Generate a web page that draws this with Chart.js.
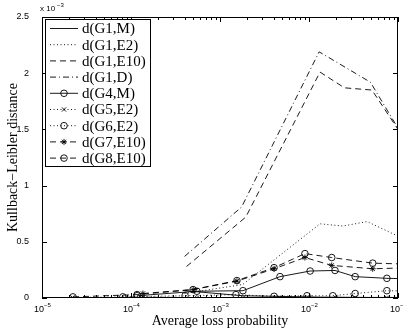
<!DOCTYPE html>
<html lang="en">
<head>
    <meta charset="UTF-8">
    <title>Kullback-Leibler distance</title>
    <style>
        body { margin: 0; background: #fff; }
        canvas { display: block; }
    </style>
    <script src="https://cdn.jsdelivr.net/npm/chart.js"></script>
</head>
<body>
    <canvas id="klChart" width="403" height="334"></canvas>
    <script>
        // tick labels
        const xTickValues = [1e-5, 1e-4, 1e-3, 1e-2, 1e-1];
        const xTickExps = ['−5', '−4', '−3', '−2', '−1'];
        const yTickValues = [0, 0.5, 1, 1.5, 2, 2.5];
        const yTickLabels = ['0', '0.5', '1', '1.5', '2', '2.5'];

        // series (y in units of 1e-3)
        const xG1M = [4.0e-4, 1.8e-3, 1.33e-2, 4.7e-2, 1.0e-1];
        const yG1M = [0.065, 0.02, 0.008, 0.005, 0.005];

        const xG1E2 = [4.0e-4, 1.8e-3, 1.33e-2, 2.4e-2, 4.5e-2, 1.0e-1];
        const yG1E2 = [0.04, 0.12, 0.66, 0.64, 0.68, 0.55];

        const xG1E10 = [4.2e-4, 1.95e-3, 1.33e-2, 2.5e-2, 5.1e-2, 1.0e-1];
        const yG1E10 = [0.28, 0.72, 2.01, 1.87, 1.85, 1.50];

        const xG1D = [4.0e-4, 1.75e-3, 1.3e-2, 4.9e-2, 1.0e-1];
        const yG1D = [0.37, 0.81, 2.19, 1.92, 1.51];

        const xG4M = [1.17e-4, 5.5e-4, 1.81e-3, 4.72e-3, 1.03e-2, 1.96e-2, 3.3e-2, 7.5e-2, 1.5e-1];
        const yG4M = [0.02, 0.06, 0.065, 0.19, 0.24, 0.245, 0.19, 0.175, 0.17];

        const xG5E2 = [2.2e-5, 1.36e-4, 5.5e-4, 1.81e-3, 4.7e-3, 1.0e-2, 2.0e-2, 3.3e-2, 7.5e-2];
        const yG5E2 = [0.005, 0.01, 0.003, 0.003, 0.003, 0.003, 0.003, 0.003, 0.003];

        const xG6E2 = [8.1e-5, 4.05e-4, 1.51e-3, 4.05e-3, 9.5e-3, 1.85e-2, 3.3e-2, 7.5e-2, 1.5e-1];
        const yG6E2 = [0.01, 0.02, 0.03, 0.015, 0.02, 0.02, 0.04, 0.065, 0.06];

        const xG7E10 = [1.36e-4, 5.0e-4, 1.55e-3, 4.05e-3, 9.0e-3, 1.8e-2, 5.2e-2, 1.5e-1];
        const yG7E10 = [0.04, 0.075, 0.15, 0.26, 0.36, 0.29, 0.26, 0.27];

        const xG8E10 = [2.23e-5, 1.17e-4, 4.98e-4, 1.55e-3, 4.05e-3, 9.0e-3, 1.8e-2, 5.2e-2, 1.5e-1];
        const yG8E10 = [0.01, 0.03, 0.075, 0.155, 0.27, 0.395, 0.36, 0.31, 0.30];

        const pts = (xs, ys) => xs.map((x, i) => ({ x: x, y: ys[i] }));

        const DASH = [6, 4];
        const DOT = [1, 2.5];
        const DASHDOT = [6, 3, 1, 3];

        function series(label, xs, ys, dash, marker) {
            return {
                label: label,
                data: pts(xs, ys),
                borderColor: '#000',
                borderWidth: 0.9,
                borderDash: dash,
                pointStyle: marker || false,
                pointRadius: marker ? (marker === 'circle' ? 3.3 : 3) : 0,
                pointBorderColor: '#000',
                pointBackgroundColor: 'rgba(0,0,0,0)',
                pointBorderWidth: 0.9,
                tension: 0
            };
        }

        const datasets = [
            series('d(G1,M)', xG1M, yG1M, [], null),
            series('d(G1,E2)', xG1E2, yG1E2, DOT, null),
            series('d(G1,E10)', xG1E10, yG1E10, DASH, null),
            series('d(G1,D)', xG1D, yG1D, DASHDOT, null),
            series('d(G4,M)', xG4M, yG4M, [], 'circle'),
            series('d(G5,E2)', xG5E2, yG5E2, DOT, 'crossRot'),
            series('d(G6,E2)', xG6E2, yG6E2, DOT, 'circle'),
            series('d(G7,E10)', xG7E10, yG7E10, DASH, 'star'),
            series('d(G8,E10)', xG8E10, yG8E10, DASH, 'circle')
        ];

        // MATLAB style box, inner ticks, log tick labels, exponent label and legend
        const matlabAxes = {
            id: 'matlabAxes',
            afterDraw(chart) {
                const ctx = chart.ctx;
                const ca = chart.chartArea;
                const xs = chart.scales.x;
                const ys = chart.scales.y;
                ctx.save();
                ctx.strokeStyle = '#000';
                ctx.lineWidth = 1;
                ctx.setLineDash([]);
                ctx.strokeRect(ca.left + 0.5, ca.top + 0.5, ca.right - ca.left - 1, ca.bottom - ca.top - 1);

                ctx.beginPath();
                for (let d = -5; d <= -1; d++) {
                    for (let k = 1; k <= 9; k++) {
                        const v = k * Math.pow(10, d);
                        if (v > 0.1000001) break;
                        const px = Math.round(xs.getPixelForValue(v)) + 0.5;
                        const len = k === 1 ? 5 : 3;
                        ctx.moveTo(px, ca.bottom);
                        ctx.lineTo(px, ca.bottom - len);
                        ctx.moveTo(px, ca.top);
                        ctx.lineTo(px, ca.top + len);
                    }
                }
                yTickValues.forEach(v => {
                    const py = Math.round(ys.getPixelForValue(v)) + 0.5;
                    ctx.moveTo(ca.left, py);
                    ctx.lineTo(ca.left + 5, py);
                    ctx.moveTo(ca.right, py);
                    ctx.lineTo(ca.right - 5, py);
                });
                ctx.stroke();

                // x tick labels 10^n
                ctx.fillStyle = '#000';
                ctx.textBaseline = 'alphabetic';
                xTickValues.forEach((v, i) => {
                    const px = xs.getPixelForValue(v);
                    ctx.font = '9px "Liberation Sans"';
                    ctx.textAlign = 'right';
                    ctx.fillText('10', px + 2, 312);
                    ctx.font = '6px "Liberation Sans"';
                    ctx.textAlign = 'left';
                    ctx.fillText(xTickExps[i], px + 2, 307);
                });
                ctx.textAlign = 'left';

                // exponent
                ctx.font = '8px "Liberation Sans"';
                ctx.fillText('x 10', 40, 11);
                ctx.font = '6px "Liberation Sans"';
                ctx.fillText('−3', 57, 7);

                // legend
                const lx = 45, ly = 19, lw = 105, lh = 147;
                ctx.fillStyle = '#fff';
                ctx.fillRect(lx, ly, lw, lh);
                ctx.strokeRect(lx + 0.5, ly + 0.5, lw, lh);
                ctx.font = '15px "Liberation Serif"';
                ctx.textBaseline = 'middle';
                chart.data.datasets.forEach((ds, i) => {
                    const y = 28.5 + i * 16.2;
                    ctx.strokeStyle = '#000';
                    ctx.lineWidth = ds.borderWidth;
                    ctx.setLineDash(ds.borderDash);
                    ctx.beginPath();
                    ctx.moveTo(50, y);
                    ctx.lineTo(78, y);
                    ctx.stroke();
                    ctx.setLineDash([]);
                    if (ds.pointStyle) {
                        ctx.strokeStyle = '#000';
                        ctx.fillStyle = 'rgba(0,0,0,0)';
                        Chart.helpers.drawPoint(ctx, {
                            pointStyle: ds.pointStyle,
                            radius: ds.pointRadius,
                            rotation: 0,
                            borderWidth: ds.pointBorderWidth
                        }, 64, y);
                    }
                    ctx.fillStyle = '#000';
                    ctx.fillText(ds.label, 82, y + 1);
                });
                ctx.restore();
            }
        };

        new Chart(document.getElementById('klChart'), {
            type: 'line',
            data: { datasets: datasets },
            options: {
                responsive: false,
                animation: false,
                layout: { padding: { top: 17, right: 5, left: 0, bottom: 0 } },
                plugins: { legend: { display: false }, tooltip: { enabled: false } },
                scales: {
                    x: {
                        type: 'logarithmic',
                        min: 1e-5,
                        max: 1e-1,
                        grid: { display: false },
                        border: { display: false },
                        afterBuildTicks: (scale) => {
                            scale.ticks = xTickValues.map(v => ({ value: v }));
                        },
                        afterFit: (scale) => { scale.height = 36; },
                        ticks: { display: false },
                        title: {
                            display: true,
                            text: 'Average loss probability',
                            color: '#000',
                            padding: { top: 0, bottom: 4 },
                            font: { family: 'Liberation Serif', size: 14 }
                        }
                    },
                    y: {
                        min: 0,
                        max: 2.5,
                        grid: { display: false },
                        border: { display: false },
                        afterBuildTicks: (scale) => {
                            scale.ticks = yTickValues.map(v => ({ value: v }));
                        },
                        afterFit: (scale) => { scale.width = 42; },
                        ticks: {
                            padding: 5,
                            color: '#000',
                            font: { family: 'Liberation Sans', size: 9 },
                            callback: (v) => {
                                const i = yTickValues.indexOf(v);
                                return i >= 0 ? yTickLabels[i] : '';
                            }
                        },
                        title: {
                            display: true,
                            text: 'Kullback−Leibler distance',
                            color: '#000',
                            padding: { top: 5, bottom: 0 },
                            font: { family: 'Liberation Serif', size: 14 }
                        }
                    }
                }
            },
            plugins: [matlabAxes]
        });
    </script>
</body>
</html>
